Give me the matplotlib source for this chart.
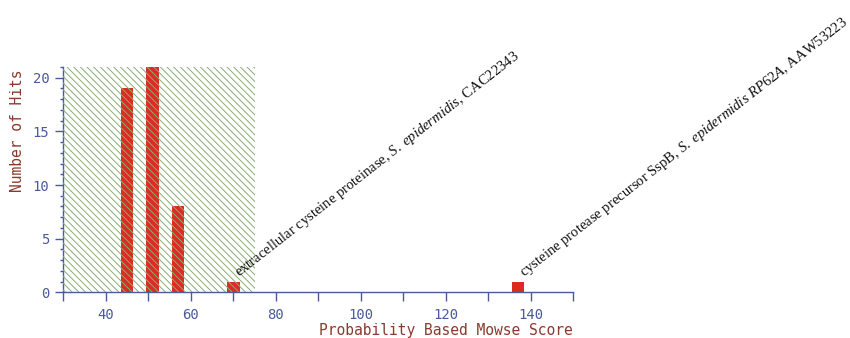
import matplotlib
matplotlib.use("Agg")
import matplotlib.pyplot as plt
from matplotlib.ticker import MultipleLocator

# Mowse score histogram data
scores = [45, 51, 57, 70, 137]
hits = [19, 21, 8, 1, 1]
bar_width = 3.0

# significance threshold region (scores below this are not significant)
threshold = 75

# labelled hits
labels = {
    70: r"extracellular cysteine proteinase, $\mathit{S.\ epidermidis}$, CAC22343",
    137: r"cysteine protease precursor SspB, $\mathit{S.\ epidermidis\ RP62A}$, AAW53223",
}

x_min, x_max = 30, 150
y_min, y_max = 0, 21

plt.rcParams["mathtext.fontset"] = "custom"
plt.rcParams["mathtext.rm"] = "Liberation Serif"
plt.rcParams["mathtext.it"] = "Liberation Serif:italic"
plt.rcParams["hatch.linewidth"] = 0.7
plt.rcParams["hatch.color"] = "#86ae72"

axis_color = "#4a5a9c"
label_color = "#8a3a2e"
bar_color = "#dd2a22"

fig = plt.figure(figsize=(8.5, 3.38), dpi=100)
ax = fig.add_axes([0.0745, 0.135, 0.6, 0.667])

ax.bar(scores, hits, width=bar_width, color=bar_color, edgecolor="none", zorder=2)

# hatched non-significant region drawn over the bars
ax.fill_between([x_min, threshold], 0, y_max, facecolor="none",
                edgecolor="#86ae72", hatch="\\" * 5, linewidth=0, zorder=3)

ax.set_xlim(x_min, x_max)
ax.set_ylim(y_min, y_max)

for s in ["top", "right"]:
    ax.spines[s].set_visible(False)
for s in ["left", "bottom"]:
    ax.spines[s].set_color(axis_color)
    ax.spines[s].set_linewidth(1.0)

ax.xaxis.set_major_locator(MultipleLocator(20))
ax.xaxis.set_minor_locator(MultipleLocator(10))
ax.yaxis.set_major_locator(MultipleLocator(5))
ax.yaxis.set_minor_locator(MultipleLocator(1))

ax.tick_params(axis="x", which="both", direction="out", length=6.5, width=1,
               color=axis_color, labelcolor=axis_color, labelsize=10, pad=5)
ax.tick_params(axis="y", which="major", direction="out", length=6, width=1,
               color=axis_color, labelcolor=axis_color, labelsize=10, pad=4)
ax.tick_params(axis="y", which="minor", direction="out", length=2, width=1,
               color=axis_color)
for t in ax.get_xticklabels() + ax.get_yticklabels():
    t.set_fontfamily("DejaVu Sans Mono")

fig.text(573 / 850, 1 - 331 / 338, "Probability Based Mowse Score",
         ha="right", va="center", color=label_color,
         family="DejaVu Sans Mono", fontsize=10.5)
fig.text(18 / 850, 1 - 131 / 338, "Number of Hits", rotation=90,
         ha="center", va="center", color=label_color,
         family="DejaVu Sans Mono", fontsize=10.5)

for x, h in zip(scores, hits):
    if x in labels:
        ax.annotate(labels[x], xy=(x + bar_width / 2, h), xytext=(1.5, 0.5),
                    textcoords="offset points", rotation=38,
                    rotation_mode="anchor", ha="left", va="bottom",
                    family="Liberation Serif", fontsize=10.5, color="#111111",
                    zorder=4)

fig.savefig("out.png", dpi=100)
